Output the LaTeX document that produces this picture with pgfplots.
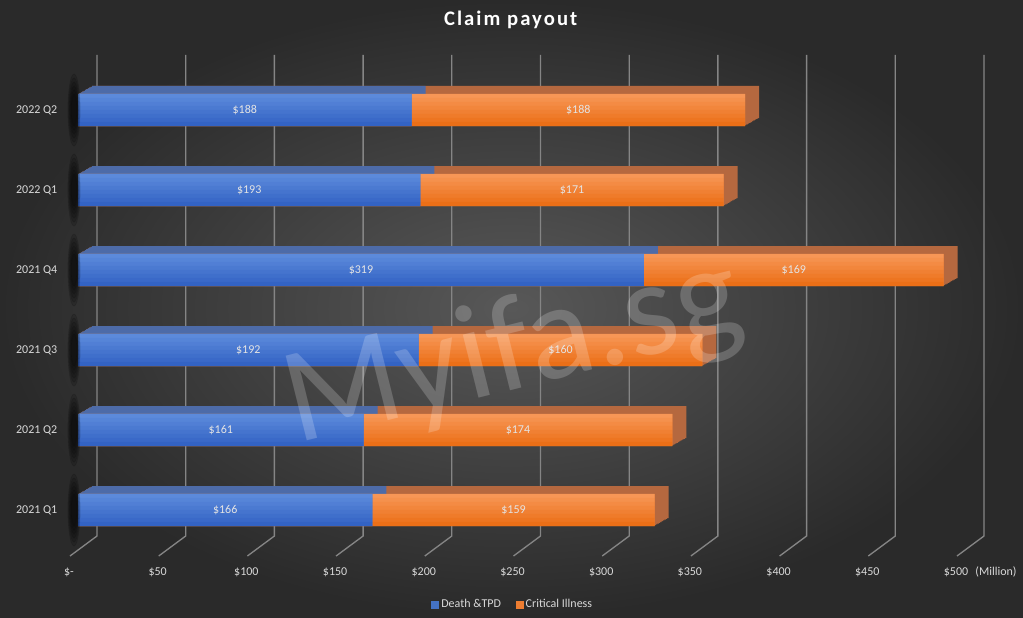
\documentclass[border=0pt]{standalone}
\usepackage{pgfplots}
\pgfplotsset{compat=1.18}
\usepackage{pgfplotstable}
\usepackage{fontspec}
\setmainfont{Carlito}
\definecolor{bgin}{HTML}{585858}
\definecolor{bgout}{HTML}{2A2A2A}
\definecolor{gridc}{HTML}{858585}
\definecolor{txt}{HTML}{D9D9D9}
\definecolor{lbl}{HTML}{E4E4E4}
\definecolor{bluetop}{HTML}{5C8ADB}
\definecolor{bluebot}{HTML}{3363C4}
\definecolor{blueback}{HTML}{4D6BA8}
\definecolor{ortop}{HTML}{F79656}
\definecolor{orbot}{HTML}{EB6F17}
\definecolor{orback}{HTML}{B5683F}
\definecolor{legblue}{HTML}{4472C4}
\definecolor{legor}{HTML}{ED7D31}

\pgfplotstableread{
y d c
0 166 159
1 161 174
2 192 160
3 319 169
4 193 171
5 188 188
}\claims

\newcommand\bandO[3]{\addplot[xbar, bar width=#3, bar shift=#1, draw=none,
  fill=ortop!#2!orbot, forget plot] table[x expr=\thisrow{d}+\thisrow{c}, y=y]{\claims};}
\newcommand\bandB[3]{\addplot[xbar, bar width=#3, bar shift=#1, draw=none,
  fill=bluetop!#2!bluebot, forget plot] table[x=d, y=y]{\claims};}
\newcommand\shadowlayer[1]{\addplot[only marks, mark=*, mark size=#1, forget plot,
  mark options={draw=none, fill=black, opacity=0.13, xscale=0.17}, xshift=-3pt]
  table[x expr=0, y=y]{\claims};}

\begin{document}
\begin{tikzpicture}
\shade[inner color=bgin, outer color=bgout] (0,0) rectangle (767.25pt,462.75pt);
\foreach \k in {0,...,10}{
  \pgfmathsetmacro{\gx}{(97+88.7*\k)*0.75}
  \draw[gridc, line width=1pt] (\gx pt,421.5pt) -- (\gx pt,60.75pt) -- (\gx pt-20.25pt,45.75pt);
}
\begin{axis}[at={(58.5pt,50.25pt)}, anchor=south west, scale only axis,
  width=665.25pt, height=360pt,
  xmin=0, xmax=500, ymin=-0.5, ymax=5.5,
  axis line style={draw=none}, major tick length=0pt,
  xtick={0,50,...,500},
  xticklabels={\$-,\$50,\$100,\$150,\$200,\$250,\$300,\$350,\$400,\$450,\$500},
  ytick={0,...,5},
  yticklabels={2021 Q1,2021 Q2,2021 Q3,2021 Q4,2022 Q1,2022 Q2},
  ticklabel style={font=\fontsize{9}{10}\selectfont, text=txt},
  xticklabel style={anchor=center, yshift=-16.5pt, xshift=-6.75pt},
  yticklabel style={anchor=east, xshift=-12pt},
  clip=false,
  legend style={at={(0.4904,-0.114)}, anchor=center, legend columns=2,
    draw=none, fill=none, font=\fontsize{9}{10}\selectfont, text=txt,
    /tikz/every even column/.append style={column sep=9pt}},
]
% soft shadows at the left wall
\shadowlayer{27pt}
\shadowlayer{24pt}
\shadowlayer{21pt}
\shadowlayer{18pt}
\shadowlayer{15pt}
\shadowlayer{12pt}
% depth (back copies)
\pgfplotsinvokeforeach{10,9,...,1}{
  \addplot[xbar, bar width=24pt, bar shift=0pt, draw=none, fill=orback,
    xshift=#1*1.05pt, yshift=#1*0.6pt, forget plot]
    table[x expr=\thisrow{d}+\thisrow{c}, y=y]{\claims};
}
\pgfplotsinvokeforeach{10,9,...,1}{
  \addplot[xbar, bar width=24pt, bar shift=0pt, draw=none, fill=blueback,
    xshift=#1*1.05pt, yshift=#1*0.6pt, forget plot]
    table[x=d, y=y]{\claims};
}
% front faces (banded gradient over a flat base)
\bandO{0pt}{50}{24pt}
\bandO{10.5pt}{100}{3.2pt}
\bandO{7.5pt}{86}{3.2pt}
\bandO{4.5pt}{72}{3.2pt}
\bandO{1.5pt}{58}{3.2pt}
\bandO{-1.5pt}{44}{3.2pt}
\bandO{-4.5pt}{30}{3.2pt}
\bandO{-7.5pt}{16}{3.2pt}
\bandO{-10.5pt}{0}{3.2pt}
\bandB{0pt}{50}{24pt}
\bandB{10.5pt}{100}{3.2pt}
\bandB{7.5pt}{86}{3.2pt}
\bandB{4.5pt}{72}{3.2pt}
\bandB{1.5pt}{58}{3.2pt}
\bandB{-1.5pt}{44}{3.2pt}
\bandB{-4.5pt}{30}{3.2pt}
\bandB{-7.5pt}{16}{3.2pt}
\bandB{-10.5pt}{0}{3.2pt}
% value labels
\addplot[draw=none, mark=none, forget plot, point meta=explicit symbolic,
  nodes near coords={\$\pgfplotspointmeta},
  every node near coord/.append style={anchor=center, font=\fontsize{9}{10}\selectfont, text=lbl}]
  table[x expr=\thisrow{d}/2, y=y, meta=d]{\claims};
\addplot[draw=none, mark=none, forget plot, point meta=explicit symbolic,
  nodes near coords={\$\pgfplotspointmeta},
  every node near coord/.append style={anchor=center, font=\fontsize{9}{10}\selectfont, text=lbl}]
  table[x expr=\thisrow{d}+\thisrow{c}/2, y=y, meta=c]{\claims};
\addlegendimage{legend image code/.code={\fill[legblue] (0pt,-2.6pt) rectangle (5.2pt,2.6pt);}}
\addlegendentry{Death \&TPD}
\addlegendimage{legend image code/.code={\fill[legor] (0pt,-2.6pt) rectangle (5.2pt,2.6pt);}}
\addlegendentry{Critical Illness}
\end{axis}
\node[anchor=base west, rotate=14, text=white, opacity=0.2, font=\fontsize{102}{102}\selectfont] at (219pt,129pt) {Myifa.sg};
\node[text=txt, font=\fontsize{9}{10}\selectfont] at (747pt,33.75pt) {(Million)};
\node[text=white, font=\fontsize{15.5}{17}\selectfont\bfseries\addfontfeatures{LetterSpace=10}] at (383pt,447.75pt) {Claim payout};
\pgfresetboundingbox
\useasboundingbox (0,0) rectangle (767.25pt,462.75pt);
\end{tikzpicture}
\end{document}
